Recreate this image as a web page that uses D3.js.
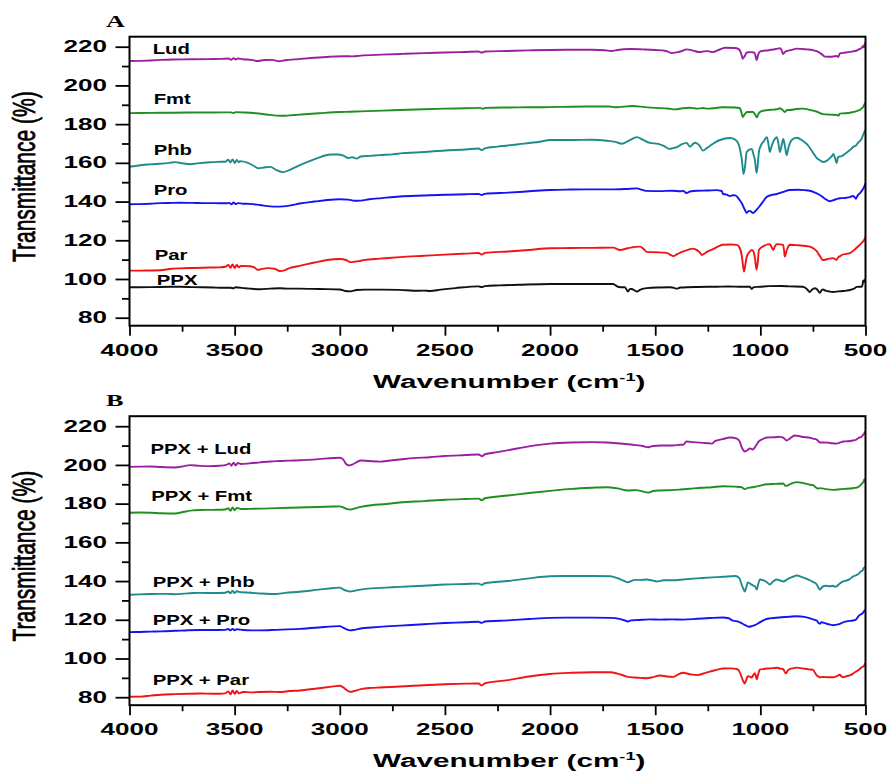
<!DOCTYPE html>
<html><head><meta charset="utf-8">
<script src="https://cdn.jsdelivr.net/npm/d3@7"></script>
<style>body{margin:0;background:#fff}svg{display:block}</style>
</head><body>
<svg id="chart" width="890" height="775"></svg>
<script>
// FTIR spectra: [wavenumber (cm-1), transmittance (%)] — stacked traces
const xMajorTicks = [4000, 3500, 3000, 2500, 2000, 1500, 1000, 500];
const xMinorTicks = [3750, 3250, 2750, 2250, 1750, 1250, 750];
const yMajorTicks = [80, 100, 120, 140, 160, 180, 200, 220];
const yMinorTicks = [90, 110, 130, 150, 170, 190, 210];

const ludA = [[4000,212.6],[3950,212.7],[3900,212.9],[3850,213.2],[3800,213.4],[3700,213.5],[3620,213.6],[3560,213.7],[3530,213.9],[3515,213.3],[3505,214.1],[3495,213.4],[3485,213.9],[3460,213.5],[3420,213.2],[3390,212.6],[3360,213.1],[3320,213.2],[3290,212.5],[3260,213.0],[3200,213.6],[3120,214.3],[3050,214.8],[2980,215.1],[2940,215.0],[2900,215.4],[2800,215.9],[2700,216.3],[2600,216.7],[2500,217.0],[2400,217.3],[2340,217.5],[2325,217.0],[2310,217.5],[2200,217.8],[2100,218.1],[2000,218.3],[1900,218.4],[1800,218.4],[1740,218.2],[1707,217.8],[1680,218.3],[1620,218.8],[1560,218.6],[1500,218.3],[1450,217.8],[1420,216.7],[1400,217.1],[1380,217.5],[1350,218.6],[1320,218.0],[1290,217.2],[1270,217.6],[1250,217.7],[1226,217.2],[1200,218.2],[1168,219.5],[1120,219.3],[1100,218.5],[1090,216.0],[1084,213.8],[1075,215.0],[1065,217.0],[1045,217.2],[1030,217.0],[1022,215.0],[1018,213.1],[1010,216.0],[1000,217.6],[960,218.2],[925,218.8],[906,219.2],[898,218.0],[892,216.2],[884,217.2],[873,217.8],[850,218.4],[827,219.0],[780,218.6],[750,218.2],[732,217.7],[710,216.3],[693,214.9],[670,214.8],[650,215.0],[637,215.2],[630,214.7],[621,216.6],[600,216.9],[574,217.3],[560,217.6],[545,217.9],[530,218.7],[520,219.2],[512,220.2],[508,219.6],[505,221.0],[503,221.4],[500,222.0]];
const fmtA = [[4000,185.7],[3900,185.8],[3800,185.9],[3700,186.0],[3600,186.0],[3520,186.1],[3505,185.7],[3495,186.2],[3450,186.0],[3400,185.6],[3350,185.0],[3300,184.4],[3270,184.3],[3240,184.5],[3190,184.9],[3100,185.6],[3000,186.3],[2950,186.4],[2900,186.6],[2800,187.0],[2714,187.3],[2600,187.7],[2500,188.0],[2400,188.2],[2333,188.4],[2320,188.0],[2305,188.4],[2200,188.6],[2100,188.7],[2000,188.8],[1900,189.0],[1800,189.1],[1720,189.1],[1690,188.7],[1606,189.4],[1550,188.8],[1500,188.4],[1440,188.1],[1405,187.6],[1370,188.2],[1335,188.5],[1300,188.0],[1273,188.3],[1250,188.0],[1178,188.7],[1120,188.6],[1097,188.2],[1090,186.0],[1084,183.7],[1075,185.0],[1063,186.3],[1035,186.3],[1025,185.0],[1017,183.5],[1008,185.5],[993,186.8],[950,187.4],[922,187.7],[907,188.2],[895,187.4],[884,186.3],[872,187.3],[860,187.3],[830,187.8],[799,188.0],[760,187.2],[730,186.4],[702,185.2],[670,184.9],[637,184.7],[628,184.4],[623,185.4],[600,185.6],[574,185.9],[555,186.3],[536,187.0],[525,187.4],[518,188.2],[513,188.5],[508,189.5],[504,190.5],[500,191.4]];
const phbA = [[4000,158.0],[3970,158.4],[3940,158.9],[3900,159.2],[3860,159.5],[3810,160.0],[3783,160.4],[3750,159.8],[3712,159.3],[3680,159.7],[3617,160.3],[3580,160.5],[3545,160.6],[3530,161.6],[3520,160.2],[3510,161.8],[3500,159.9],[3490,161.5],[3480,160.3],[3474,160.9],[3440,160.1],[3410,158.5],[3388,157.2],[3360,157.6],[3330,157.9],[3300,156.2],[3270,155.2],[3240,156.3],[3200,158.3],[3150,160.6],[3100,162.7],[3070,163.8],[3040,164.3],[3010,164.3],[2980,163.6],[2960,162.5],[2940,162.9],[2920,162.2],[2900,163.3],[2860,163.6],[2810,164.0],[2750,164.4],[2700,165.0],[2600,165.6],[2500,166.4],[2400,166.9],[2340,167.4],[2325,166.6],[2310,167.5],[2250,168.4],[2150,169.6],[2050,170.9],[2000,171.8],[1900,171.8],[1800,171.9],[1730,171.4],[1690,170.8],[1658,169.9],[1620,171.8],[1587,173.3],[1560,172.0],[1525,170.3],[1486,169.8],[1460,168.8],[1430,167.2],[1415,167.6],[1397,168.1],[1375,169.5],[1350,170.3],[1335,168.3],[1320,169.8],[1311,170.4],[1290,169.0],[1273,166.3],[1255,167.6],[1240,168.7],[1215,170.6],[1192,171.8],[1144,172.8],[1120,172.0],[1106,170.3],[1095,166.0],[1088,161.5],[1080,154.2],[1072,159.0],[1065,165.6],[1050,167.0],[1041,167.2],[1032,164.0],[1026,161.5],[1018,154.8],[1012,159.5],[1007,165.6],[995,169.5],[986,170.8],[969,173.3],[962,170.0],[955,165.6],[948,168.0],[941,170.3],[930,172.5],[922,173.3],[914,170.0],[907,165.6],[898,169.5],[891,172.3],[883,168.5],[875,164.0],[867,167.5],[859,170.3],[845,172.3],[827,173.0],[800,171.5],[771,168.7],[750,165.3],[732,162.5],[715,161.2],[702,160.4],[685,161.0],[669,162.5],[660,163.5],[653,164.6],[645,162.5],[637,159.9],[631,163.0],[622,163.3],[613,163.5],[595,164.8],[574,166.6],[555,168.5],[545,169.0],[536,170.3],[525,171.5],[518,172.5],[513,174.0],[508,175.2],[504,176.4],[500,177.0]];
const proA = [[4000,138.6],[3950,138.7],[3900,138.9],[3850,139.2],[3800,139.3],[3760,139.4],[3700,139.3],[3650,139.2],[3600,139.2],[3540,139.1],[3525,139.3],[3515,138.6],[3505,139.5],[3495,138.7],[3485,139.2],[3460,138.9],[3428,138.8],[3380,138.2],[3330,137.5],[3300,137.4],[3270,137.5],[3230,138.1],[3190,139.0],[3120,140.0],[3060,140.8],[3000,141.2],[2960,141.0],[2930,140.4],[2900,140.5],[2860,141.2],[2800,141.8],[2714,142.6],[2600,143.1],[2500,143.5],[2400,143.8],[2340,143.9],[2325,143.4],[2310,144.0],[2200,144.6],[2100,145.3],[2000,146.0],[1900,146.2],[1800,146.3],[1700,146.3],[1640,146.5],[1587,146.8],[1560,146.0],[1540,145.5],[1480,145.4],[1420,145.6],[1380,145.3],[1367,145.5],[1351,144.4],[1335,145.2],[1300,145.6],[1250,145.7],[1207,145.9],[1190,145.6],[1183,145.4],[1178,143.9],[1160,143.6],[1145,142.9],[1130,143.3],[1119,143.2],[1100,141.0],[1089,139.3],[1075,136.0],[1065,134.1],[1058,135.0],[1050,135.2],[1042,134.6],[1036,134.1],[1020,135.5],[1003,137.7],[985,140.3],[970,142.4],[950,143.3],[922,143.9],[890,145.0],[860,146.0],[820,146.1],[790,145.9],[765,145.6],[740,144.6],[717,143.4],[695,141.6],[680,140.6],[669,140.2],[650,140.8],[635,141.4],[622,141.7],[605,141.8],[590,142.0],[575,142.3],[560,142.9],[552,142.3],[546,141.4],[538,143.0],[526,144.4],[518,145.5],[510,146.8],[505,148.0],[500,149.6]];
const parA = [[4000,104.3],[3950,104.3],[3900,104.4],[3855,104.5],[3800,105.3],[3760,105.5],[3700,105.7],[3620,105.9],[3570,106.0],[3545,106.3],[3530,107.2],[3520,105.8],[3510,107.5],[3500,105.7],[3490,107.2],[3480,106.1],[3470,106.8],[3428,106.6],[3405,105.9],[3390,104.7],[3370,105.2],[3340,105.6],[3310,105.3],[3285,104.1],[3260,104.6],[3237,105.7],[3190,106.8],[3120,108.5],[3060,109.8],[3000,110.3],[2970,109.8],[2950,108.7],[2930,108.9],[2910,109.2],[2880,109.9],[2810,110.5],[2714,111.3],[2600,112.0],[2500,112.6],[2400,113.1],[2340,113.4],[2325,112.6],[2310,113.5],[2200,114.2],[2100,115.0],[2000,115.9],[1900,116.0],[1800,116.1],[1700,116.2],[1667,115.0],[1630,115.9],[1572,116.7],[1555,115.5],[1540,114.0],[1500,113.8],[1445,113.5],[1425,112.3],[1415,111.8],[1395,112.8],[1373,114.0],[1345,115.0],[1320,115.7],[1300,114.8],[1287,113.6],[1278,112.4],[1265,113.2],[1254,114.0],[1230,115.2],[1200,116.8],[1178,117.7],[1140,117.8],[1112,117.6],[1098,116.0],[1089,112.4],[1082,106.5],[1078,103.8],[1072,107.0],[1065,111.4],[1050,114.2],[1041,115.0],[1032,114.0],[1026,111.0],[1018,104.8],[1012,109.0],[1007,115.0],[985,117.0],[965,117.9],[955,118.0],[947,116.5],[939,115.0],[930,117.0],[922,118.0],[905,117.9],[892,117.6],[887,114.5],[884,111.6],[878,113.5],[874,115.0],[867,116.8],[860,117.7],[820,117.4],[765,116.7],[745,115.6],[732,114.4],[715,111.5],[702,109.8],[680,110.3],[654,110.8],[645,110.3],[637,109.9],[629,111.3],[620,111.8],[613,112.4],[590,113.0],[574,113.4],[555,114.9],[536,116.8],[525,117.9],[513,119.3],[507,120.0],[503,121.0],[500,121.7]];
const ppxA = [[4000,95.7],[3900,95.8],[3800,96.0],[3760,96.0],[3700,95.8],[3600,95.6],[3570,95.5],[3520,95.5],[3505,95.2],[3495,95.7],[3450,95.2],[3428,95.0],[3380,94.7],[3330,95.0],[3285,95.2],[3240,95.0],[3190,95.0],[3100,94.8],[3000,94.6],[2975,93.8],[2950,93.6],[2920,94.3],[2880,94.5],[2800,94.5],[2714,94.4],[2650,93.9],[2600,94.0],[2570,93.8],[2520,94.5],[2450,95.3],[2340,96.2],[2325,95.8],[2310,96.3],[2240,96.7],[2150,97.0],[2000,97.4],[1900,97.4],[1800,97.4],[1700,97.4],[1677,96.0],[1655,95.7],[1644,95.7],[1630,93.5],[1620,94.8],[1611,94.8],[1600,94.2],[1587,93.5],[1570,94.5],[1540,95.3],[1480,95.6],[1430,95.7],[1410,95.4],[1399,95.0],[1380,95.6],[1300,95.9],[1207,96.0],[1150,96.1],[1100,96.0],[1060,96.0],[1050,96.0],[1041,94.8],[1032,95.8],[1000,96.0],[960,96.3],[900,96.4],[860,96.2],[800,96.0],[785,95.4],[778,94.7],[765,93.3],[755,94.4],[741,95.2],[730,94.6],[717,92.9],[708,94.3],[702,94.6],[690,94.0],[670,93.5],[653,93.3],[630,93.6],[606,93.8],[590,94.0],[574,94.3],[555,95.0],[541,95.9],[525,96.0],[518,96.0],[514,97.0],[511,99.3],[506,98.5],[503,99.6],[500,99.8]];

const ludB = [[4000,199.0],[3950,199.1],[3902,199.2],[3850,198.9],[3783,198.7],[3740,199.4],[3712,199.9],[3665,199.5],[3620,199.4],[3570,199.6],[3540,200.0],[3525,200.8],[3515,199.6],[3505,201.2],[3495,199.8],[3485,201.0],[3470,200.5],[3430,200.8],[3380,201.3],[3330,201.8],[3285,202.0],[3240,202.2],[3190,202.4],[3100,203.0],[3030,203.6],[3000,203.7],[2985,203.0],[2970,200.5],[2955,199.7],[2940,200.2],[2920,201.4],[2900,202.3],[2860,202.0],[2810,201.7],[2760,202.3],[2714,202.8],[2650,203.5],[2571,204.0],[2500,204.6],[2400,205.1],[2340,205.4],[2325,204.5],[2310,205.5],[2250,206.6],[2150,208.6],[2080,210.0],[2000,211.0],[1900,211.6],[1800,211.8],[1730,211.6],[1680,211.2],[1630,210.7],[1590,210.2],[1560,209.8],[1534,209.1],[1520,209.6],[1510,209.8],[1470,210.0],[1415,210.0],[1380,210.4],[1367,210.4],[1351,212.1],[1320,211.8],[1273,211.4],[1245,211.2],[1230,211.0],[1216,212.3],[1180,213.3],[1144,214.2],[1112,213.6],[1098,212.0],[1089,209.2],[1080,207.5],[1074,206.9],[1062,207.6],[1050,208.5],[1036,208.0],[1022,209.8],[1008,212.1],[990,213.3],[970,214.2],[930,214.3],[906,214.5],[890,214.0],[880,213.0],[875,212.6],[860,213.6],[836,215.2],[815,214.9],[798,214.4],[770,214.2],[750,213.6],[732,213.1],[717,211.6],[700,211.6],[679,211.5],[660,211.2],[637,211.0],[620,211.6],[606,212.1],[585,212.2],[560,212.6],[545,213.0],[535,213.8],[526,214.2],[518,214.6],[512,215.5],[507,216.0],[503,217.0],[500,217.3]];
const fmtB = [[4000,175.3],[3950,175.4],[3900,175.3],[3850,175.0],[3783,174.9],[3740,175.8],[3700,176.5],[3665,176.7],[3600,176.8],[3545,177.0],[3530,177.6],[3520,176.3],[3510,178.0],[3500,176.6],[3490,177.8],[3470,177.2],[3430,177.3],[3380,177.4],[3300,177.7],[3190,178.0],[3100,178.3],[3030,178.5],[3000,178.6],[2985,178.1],[2965,177.2],[2950,177.0],[2930,177.5],[2900,178.3],[2850,179.2],[2780,179.8],[2714,180.6],[2600,181.3],[2500,182.0],[2400,182.4],[2340,182.6],[2325,181.8],[2310,182.8],[2200,184.2],[2100,185.5],[2000,186.6],[1900,187.6],[1800,188.2],[1730,188.5],[1680,187.9],[1630,186.8],[1590,187.0],[1560,186.3],[1534,185.7],[1510,186.5],[1477,186.8],[1420,187.0],[1380,187.3],[1335,187.7],[1280,188.2],[1230,188.5],[1178,189.0],[1120,188.8],[1089,188.5],[1080,187.8],[1074,187.5],[1060,188.1],[1050,188.3],[1030,188.6],[1000,189.3],[970,190.0],[930,190.2],[891,190.4],[882,189.3],[875,189.2],[860,190.0],[827,191.1],[800,190.7],[770,189.9],[750,189.6],[735,188.3],[727,187.8],[715,188.0],[690,187.5],[654,187.1],[620,187.4],[600,187.6],[574,187.8],[555,188.1],[541,188.3],[530,189.0],[520,190.0],[515,190.7],[510,191.0],[506,192.5],[503,191.5],[500,193.0]];
const phbB = [[4000,132.9],[3950,133.1],[3900,133.3],[3855,133.4],[3820,133.4],[3783,133.2],[3740,133.5],[3700,133.8],[3665,133.9],[3600,133.8],[3545,134.0],[3530,134.6],[3520,133.7],[3510,135.0],[3500,133.8],[3490,134.7],[3470,134.2],[3420,134.0],[3380,133.6],[3330,133.3],[3307,133.3],[3260,133.9],[3190,134.5],[3100,135.6],[3030,136.4],[3000,136.6],[2985,135.8],[2965,134.9],[2950,134.6],[2930,135.0],[2900,135.6],[2850,136.2],[2780,136.6],[2714,137.0],[2600,137.6],[2500,138.2],[2400,138.5],[2340,138.7],[2325,138.0],[2310,138.9],[2200,140.0],[2100,141.4],[2000,142.5],[1900,142.6],[1800,142.6],[1713,142.5],[1680,141.5],[1650,140.2],[1630,139.4],[1610,140.2],[1597,140.6],[1570,140.6],[1540,140.8],[1510,140.2],[1492,139.8],[1460,140.4],[1420,140.4],[1367,140.8],[1330,141.2],[1287,141.5],[1230,141.9],[1178,142.2],[1119,142.6],[1100,141.5],[1089,138.2],[1080,135.8],[1074,134.6],[1067,136.8],[1060,139.3],[1045,138.4],[1036,137.8],[1025,137.2],[1017,135.6],[1010,138.5],[1003,140.8],[985,140.4],[970,139.5],[955,138.2],[940,139.8],[922,140.8],[905,140.3],[891,139.8],[870,141.0],[850,142.0],[827,142.9],[800,142.0],[771,140.8],[750,139.6],[732,138.3],[725,136.8],[717,135.6],[705,137.0],[690,137.6],[670,137.3],[654,137.6],[645,137.0],[637,137.3],[625,138.5],[606,139.8],[590,140.3],[575,141.0],[560,142.3],[545,143.0],[530,144.0],[522,145.0],[515,145.3],[510,146.5],[505,147.0],[500,147.5]];
const proB = [[4000,113.6],[3950,113.7],[3900,113.9],[3850,114.0],[3783,114.3],[3720,114.6],[3665,114.7],[3600,114.7],[3545,114.8],[3530,115.2],[3520,114.5],[3510,115.3],[3500,114.6],[3490,115.1],[3460,114.7],[3420,114.5],[3380,114.5],[3300,114.8],[3190,115.3],[3100,116.0],[3030,116.6],[3000,116.7],[2985,116.0],[2965,114.9],[2950,114.5],[2930,114.8],[2900,115.5],[2850,116.0],[2780,116.6],[2714,117.0],[2600,117.7],[2500,118.3],[2400,118.7],[2340,119.0],[2325,118.4],[2310,119.1],[2200,119.7],[2100,120.4],[2000,121.0],[1900,121.1],[1800,121.1],[1713,121.0],[1670,120.5],[1640,119.5],[1630,119.1],[1615,119.7],[1597,119.8],[1560,120.0],[1525,120.2],[1480,120.1],[1420,120.2],[1367,120.1],[1300,120.5],[1240,120.9],[1178,121.2],[1150,120.8],[1135,119.7],[1115,119.3],[1097,118.7],[1075,117.4],[1055,116.4],[1040,116.7],[1026,117.2],[1005,118.5],[988,119.6],[970,120.4],[955,120.7],[900,121.3],[860,121.6],[827,121.8],[790,121.5],[760,120.6],[740,119.9],[732,119.6],[722,118.2],[717,118.0],[709,118.8],[702,118.5],[680,117.8],[654,117.2],[630,117.6],[606,118.7],[585,119.3],[560,119.6],[545,120.2],[535,121.6],[526,122.6],[518,123.0],[512,123.6],[506,124.5],[502,125.0],[500,125.3]];
const parB = [[4000,80.2],[3950,80.3],[3900,80.8],[3850,81.3],[3783,81.6],[3720,81.8],[3665,81.9],[3600,81.8],[3570,81.8],[3545,82.0],[3530,83.0],[3520,81.5],[3510,83.5],[3500,81.7],[3490,83.2],[3480,82.0],[3460,82.7],[3420,82.5],[3380,82.7],[3330,82.8],[3285,82.7],[3240,83.2],[3190,83.5],[3100,84.6],[3030,85.6],[3000,85.9],[2985,85.2],[2965,83.5],[2950,82.8],[2930,83.2],[2900,84.2],[2850,84.8],[2810,85.0],[2760,85.3],[2714,85.5],[2600,86.2],[2500,86.7],[2400,87.0],[2340,87.1],[2325,86.1],[2310,87.2],[2200,88.8],[2100,90.7],[2000,92.0],[1900,92.6],[1800,92.9],[1713,92.9],[1680,92.2],[1650,91.2],[1630,90.5],[1600,90.2],[1570,90.0],[1540,89.8],[1510,90.4],[1477,91.2],[1445,90.7],[1415,90.5],[1390,91.8],[1367,92.6],[1340,92.0],[1302,91.4],[1260,92.6],[1220,93.8],[1178,94.8],[1140,94.9],[1112,94.6],[1098,93.0],[1089,90.3],[1080,88.0],[1074,87.1],[1067,89.0],[1060,90.8],[1050,90.6],[1041,90.2],[1033,91.5],[1026,92.4],[1017,89.3],[1010,92.0],[1003,94.2],[970,94.8],[940,95.0],[922,95.2],[905,94.8],[891,94.5],[885,93.2],[877,92.3],[870,93.8],[860,94.5],[840,95.0],[827,95.3],[800,94.9],[770,94.4],[750,94.2],[740,92.6],[732,91.3],[722,90.6],[717,90.3],[700,90.4],[680,90.3],[654,90.3],[640,90.7],[622,91.6],[615,90.8],[606,90.3],[590,90.9],[574,91.3],[555,92.5],[541,93.5],[530,94.3],[518,95.5],[512,95.8],[506,96.3],[502,97.5],[500,96.9]];

const seriesNamesA = ["Lud", "Fmt", "Phb", "Pro", "Par", "PPX"];
const seriesNamesB = ["PPX + Lud", "PPX + Fmt", "PPX + Phb", "PPX + Pro", "PPX + Par"];

// trace colours
const colour = {Lud: "#9a1fa0", Fmt: "#1f8f1f", Phb: "#1f8b8b", Pro: "#1414f0", Par: "#f01414", PPX: "#111111"};

// label anchors in data units [wavenumber, transmittance] (text baseline)
const panels = [
  {letter: "A", top: 36.7, series: [
    {name: seriesNamesA[0], data: ludA, c: colour.Lud, at: [3890, 216.2]},
    {name: seriesNamesA[1], data: fmtA, c: colour.Fmt, at: [3885, 190.4]},
    {name: seriesNamesA[2], data: phbA, c: colour.Phb, at: [3885, 164.1]},
    {name: seriesNamesA[3], data: proA, c: colour.Pro, at: [3885, 143.4]},
    {name: seriesNamesA[4], data: parA, c: colour.Par, at: [3880, 109.8]},
    {name: seriesNamesA[5], data: ppxA, c: colour.PPX, at: [3870, 96.9]}
  ]},
  {letter: "B", top: 416.2, series: [
    {name: seriesNamesB[0], data: ludB, c: colour.Lud, at: [3900, 205.4]},
    {name: seriesNamesB[1], data: fmtB, c: colour.Fmt, at: [3897, 181.6]},
    {name: seriesNamesB[2], data: phbB, c: colour.Phb, at: [3890, 136.7]},
    {name: seriesNamesB[3], data: proB, c: colour.Pro, at: [3890, 117.1]},
    {name: seriesNamesB[4], data: parB, c: colour.Par, at: [3890, 86.1]}
  ]}
];

const svg = d3.select("#chart");
const plotLeft = 129.5, plotRight = 865.5, plotH = 289;
const SANS = "'Liberation Sans', Arial, sans-serif";

const x = d3.scaleLinear().domain([4000, 500]).range([plotLeft, plotRight]);

// horizontally widened text
function wideText(g, str, px, py, o) {
  return g.append("text")
    .attr("transform", `translate(${px},${py}) scale(${o.sx},1)`)
    .attr("text-anchor", o.anchor || "start")
    .style("font-family", o.family || SANS)
    .style("font-size", o.size + "px")
    .style("font-weight", o.weight || "bold")
    .style("fill", o.fill || "#000")
    .text(str);
}

panels.forEach(p => {
  const g = svg.append("g");
  const bottom = p.top + plotH;
  const y = d3.scaleLinear().domain([75.87, 225.17]).range([bottom, p.top]);

  const line = d3.line().x(d => x(d[0])).y(d => y(d[1])).curve(d3.curveMonotoneX);

  // traces
  p.series.forEach(s => {
    g.append("path").datum(s.data)
      .attr("d", line)
      .attr("fill", "none")
      .attr("stroke", s.c)
      .attr("stroke-width", 1.9)
      .attr("stroke-linejoin", "round");
    wideText(g, s.name, x(s.at[0]), y(s.at[1]), {size: 14.5, sx: 1.4});
  });

  // axes
  const axStyle = sel => { sel.select(".domain").remove(); sel.selectAll("line").attr("stroke", "#000").attr("stroke-width", 1.8); };
  g.append("g").attr("transform", `translate(0,${bottom})`)
    .call(d3.axisBottom(x).tickValues(xMajorTicks).tickSize(10).tickFormat(""))
    .call(axStyle);
  g.append("g").attr("transform", `translate(0,${bottom})`)
    .call(d3.axisBottom(x).tickValues(xMinorTicks).tickSize(6).tickFormat(""))
    .call(axStyle);
  g.append("g").attr("transform", `translate(${plotLeft},0)`)
    .call(d3.axisLeft(y).tickValues(yMajorTicks).tickSize(14).tickFormat(""))
    .call(axStyle);
  g.append("g").attr("transform", `translate(${plotLeft},0)`)
    .call(d3.axisLeft(y).tickValues(yMinorTicks).tickSize(7.5).tickFormat(""))
    .call(axStyle);

  // frame
  g.append("rect")
    .attr("x", plotLeft).attr("y", p.top)
    .attr("width", plotRight - plotLeft).attr("height", plotH)
    .attr("fill", "none").attr("stroke", "#000").attr("stroke-width", 2);

  // tick labels
  xMajorTicks.forEach(t => wideText(g, String(t), x(t), bottom + 30, {size: 16.5, sx: 1.58, anchor: "middle"}));
  yMajorTicks.forEach(t => wideText(g, String(t), 107, y(t) + 5.6, {size: 16.5, sx: 1.58, anchor: "end"}));

  // panel letter
  wideText(g, p.letter, 106, p.top - 10, {size: 17.5, sx: 1.5, family: "'Liberation Serif', 'Times New Roman', serif"});

  // x title
  const xt = g.append("text")
    .attr("transform", `translate(373,${bottom + 62}) scale(1.65,1)`)
    .style("font-family", SANS).style("font-size", "18px").style("font-weight", "bold");
  xt.append("tspan").text("Wavenumber (cm");
  xt.append("tspan").attr("dy", -7).style("font-size", "11px").text("-1");
  xt.append("tspan").attr("dy", 7).text(")");

  // y title
  g.append("text")
    .attr("transform", `translate(35,${p.top + 140}) scale(1.46,1) rotate(-90)`)
    .attr("text-anchor", "middle")
    .style("font-family", SANS).style("font-size", "21px")
    .style("stroke", "#000").style("stroke-width", 0.5)
    .text("Transmittance (%)");
});
</script>
</body></html>
